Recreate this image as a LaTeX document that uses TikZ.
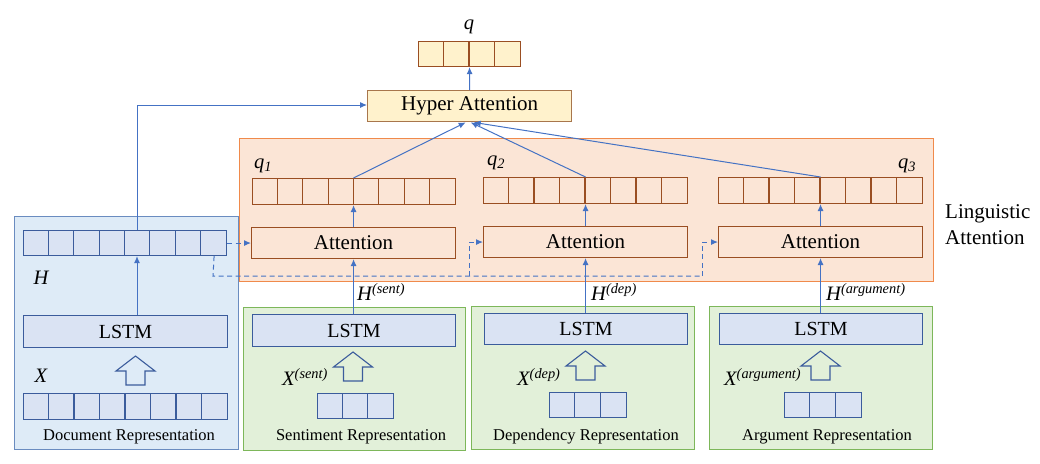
\documentclass[tikz,border=0pt]{standalone}
\usepackage{fontspec}
\setmainfont{Liberation Serif}
\usetikzlibrary{arrows.meta,calc}
\definecolor{panelblue}{HTML}{DEEBF7}
\definecolor{panelbluedraw}{HTML}{6A8CC0}
\definecolor{cellfill}{HTML}{DAE3F3}
\definecolor{celldraw}{HTML}{3B5C9C}
\definecolor{greenfill}{HTML}{E2F0D9}
\definecolor{greendraw}{HTML}{7DB75A}
\definecolor{orangefill}{HTML}{FBE5D6}
\definecolor{orangedraw}{HTML}{F08A4B}
\definecolor{browndraw}{HTML}{9A4E22}
\definecolor{yellowfill}{HTML}{FFF2CC}
\definecolor{hyperdraw}{HTML}{A8764C}
\definecolor{arrowblue}{HTML}{4472C4}
\newcommand{\mkrow}[8]{% name, x, y, width, height, ncells-1, cellw, style
  \node[#8, anchor=north west, minimum width=#4pt, minimum height=#5pt] (#1) at (#2,#3) {};
  \foreach \i in {1,...,#6} {\draw[#8, fill=none] ($(#1.north west)+(\i*#7,0)$) -- ($(#1.south west)+(\i*#7,0)$);}
}
\newcommand{\blockarrow}[4]{% center x, tip y, shoulder y, bottom y
  \draw[celldraw, line width=1.1pt, line join=miter]
    (#1,#2) -- (#1+19.5,#3) -- (#1+9.5,#3) -- (#1+9.5,#4) -- (#1-9.5,#4) -- (#1-9.5,#3) -- (#1-19.5,#3) -- cycle;
}
\tikzset{
  bluecells/.style={draw=celldraw, fill=cellfill, line width=1.1pt, inner sep=0pt},
  browncells/.style={draw=browndraw, fill=orangefill, line width=1.1pt, inner sep=0pt},
  yellowcells/.style={draw=browndraw, fill=yellowfill, line width=1.1pt, inner sep=0pt},
  bluepanel/.style={draw=panelbluedraw, fill=panelblue, line width=1.1pt, inner sep=0pt, anchor=north west},
  greenpanel/.style={draw=greendraw, fill=greenfill, line width=1.1pt, inner sep=0pt, anchor=north west},
  orangepanel/.style={draw=orangedraw, fill=orangefill, line width=1.1pt, inner sep=0pt, anchor=north west},
  lstmbox/.style={draw=celldraw, fill=cellfill, line width=1.1pt, inner sep=0pt, anchor=north west,
    minimum width=204pt, minimum height=32pt, font=\fontsize{20}{24}\selectfont},
  attbox/.style={draw=browndraw, fill=orangefill, line width=1.1pt, inner sep=0pt, anchor=north west,
    minimum width=204pt, minimum height=31pt, font=\fontsize{21}{25}\selectfont},
  hyperbox/.style={draw=hyperdraw, fill=yellowfill, line width=1.4pt, inner sep=0pt, anchor=north west,
    minimum width=204pt, minimum height=31pt, font=\fontsize{21}{25}\selectfont},
  arr/.style={draw=arrowblue, line width=1pt, -{Latex[length=7pt,width=6pt]}},
  ln/.style={draw=arrowblue, line width=1pt},
  dashln/.style={draw=arrowblue, line width=1pt, dash pattern=on 5pt off 3.5pt},
  dasharr/.style={dashln, -{Latex[length=7pt,width=6pt]}},
  lbl/.style={inner sep=0pt, font=\fontsize{20.5}{24}\selectfont\itshape},
  caption/.style={inner sep=0pt, font=\fontsize{16.5}{20}\selectfont},
}
\begin{document}
\begin{tikzpicture}[x=1pt,y=-1pt]
\useasboundingbox (0,0) rectangle (1040,463);
% panels
\node[orangepanel, minimum width=694pt, minimum height=143pt] (ling) at (239,138) {};
\node[bluepanel, minimum width=224pt, minimum height=233pt] (docp) at (14,216) {};
\node[greenpanel, minimum width=222pt, minimum height=143pt] (sentp) at (243,307) {};
\node[greenpanel, minimum width=223pt, minimum height=143pt] (depp) at (471,306) {};
\node[greenpanel, minimum width=223pt, minimum height=143pt] (argp) at (709,306) {};
% top
\mkrow{qtop}{418}{41}{102}{25}{3}{25.5}{yellowcells}
\node[lbl] (qlbl) at (469,27) {q};
\node[hyperbox] (hyper) at (367,90) {Hyper Attention};
% linguistic attention
\mkrow{q1}{252}{178}{203}{26}{7}{25.375}{browncells}
\mkrow{q2}{483}{177}{204}{26}{7}{25.5}{browncells}
\mkrow{q3}{718}{177}{204}{26}{7}{25.5}{browncells}
\node[lbl, anchor=west] (q1lbl) at (254,166) {q\textsubscript{1}};
\node[lbl, anchor=west] (q2lbl) at (487,163) {q\textsubscript{2}};
\node[lbl, anchor=west] (q3lbl) at (898,166) {q\textsubscript{3}};
\node[attbox] (att1) at (251,227) {Attention};
\node[attbox] (att2) at (483,226) {Attention};
\node[attbox] (att3) at (718,226) {Attention};
\node[anchor=west, align=left, inner sep=0pt, font=\fontsize{21}{26}\selectfont] (linglbl) at (945,225) {Linguistic\\Attention};
% document
\mkrow{H}{23}{230}{203}{25}{7}{25.375}{bluecells}
\node[lbl] (Hlbl) at (41,278) {H};
\node[lstmbox] (lstm0) at (23,315) {LSTM};
\blockarrow{135.5}{356}{371}{385}
\node[lbl] (Xlbl) at (41,376) {X};
\mkrow{X}{23}{393}{204}{26}{7}{25.5}{bluecells}
\node[caption] (doccap) at (129,437) {Document Representation};
% sentiment
\node[lstmbox, minimum width=203pt] (lstm1) at (252,314) {LSTM};
\blockarrow{353}{352}{367}{381}
\node[lbl, anchor=west] (xs) at (282,377) {X\textsuperscript{(sent)}};
\mkrow{xs}{317}{393}{76}{25}{2}{25.33}{bluecells}
\node[caption] (sentcap) at (361,437) {Sentiment Representation};
% dependency
\node[lstmbox, minimum width=203pt, minimum height=31pt] (lstm2) at (484,313) {LSTM};
\blockarrow{585.5}{351}{366}{380}
\node[lbl, anchor=west] (xd) at (517,377) {X\textsuperscript{(dep)}};
\mkrow{xd}{549}{392}{77}{25}{2}{25.67}{bluecells}
\node[caption] (depcap) at (586,437) {Dependency Representation};
% argument
\node[lstmbox, minimum width=203pt, minimum height=31pt] (lstm3) at (719,313) {LSTM};
\blockarrow{820.5}{351}{366}{380}
\node[lbl, anchor=west] (xa) at (724,377) {X\textsuperscript{(argument)}};
\mkrow{xa}{784}{392}{77}{25}{2}{25.67}{bluecells}
\node[caption] (argcap) at (827,437) {Argument Representation};
% H labels
\node[lbl, anchor=west] (hs) at (357,292) {H\textsuperscript{(sent)}};
\node[lbl, anchor=west] (hd) at (591,292) {H\textsuperscript{(dep)}};
\node[lbl, anchor=west] (ha) at (826,292) {H\textsuperscript{(argument)}};
% connectors
\draw[arr] (hyper.north) -- (qtop.south);
\draw[arr] (lstm0.north -| 137,0) -- (H.south -| 137,0);
\coordinate (hturn) at (137,105);
\draw[arr] (H.north -| 137,0) -- (hturn) -- (hyper.west |- hturn);
\draw[arr] (att1.north) -- (q1.south -| att1.north);
\draw[arr] (att2.north) -- (q2.south -| att2.north);
\draw[arr] (att3.north) -- (q3.south -| att3.north);
\draw[arr] (lstm1.north -| att1.south) -- (att1.south);
\draw[arr] (lstm2.north -| att2.south) -- (att2.south);
\draw[arr] (lstm3.north -| att3.south) -- (att3.south);
\coordinate (h1) at ($(hyper.south)+(-4,0)$);
\coordinate (h2) at ($(hyper.south)+(1,0)$);
\coordinate (h3) at ($(hyper.south)+(4,0)$);
\draw[arr] (q1.north -| att1.north) -- (h1);
\draw[arr] (q2.north -| att2.north) -- (h2);
\draw[arr] (q3.north -| att3.north) -- (h3);
% dashed
\draw[dasharr] (H.east) -- (att1.west);
\coordinate (d0) at ($(H.south east)+(-13,0)$);
\coordinate (dc) at (213,276);
\coordinate (b2) at (469,276);
\coordinate (b3) at (702,276);
\draw[dashln] (d0) -- (dc) -- (b3);
\draw[dasharr] (b2) |- (att2.west);
\draw[dasharr] (b3) |- (att3.west);
\end{tikzpicture}
\end{document}
